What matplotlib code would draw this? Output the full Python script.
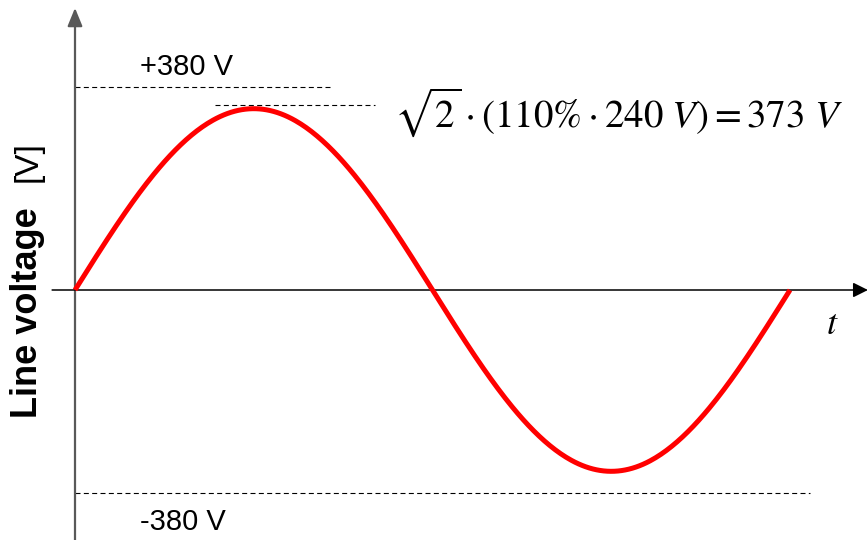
import numpy as np
import matplotlib
matplotlib.use("Agg")
import matplotlib.pyplot as plt

# nominal line voltage and the limits drawn around it
v_rms = 240.0
v_limit = 380.0
peak_label = r"$\sqrt{2}\cdot(110\%\cdot240\ V)=373\ V$"
limit_labels = ["+380 V", "-380 V"]

# one period of the line voltage (t in periods)
t = np.linspace(0.0, 1.0, 400)
v = np.sqrt(2) * v_rms * np.sin(2 * np.pi * t)
v_peak = v.max()

plt.rcParams["font.family"] = ["Liberation Sans", "DejaVu Sans"]
plt.rcParams["mathtext.fontset"] = "stix"

fig = plt.figure(figsize=(8.68, 5.4), dpi=100)
ax = fig.add_axes([0, 0, 1, 1])
ax.set_axis_off()

# 715 px per period, 203 px per 380 V, origin at (75, 290) px
ax.set_xlim(-75 / 715, (868 - 75) / 715)
ax.set_ylim(-(540 - 290) * v_limit / 203, 290 * v_limit / 203)

# axes with arrow heads
ax.annotate("", xy=(0, 528), xytext=(0, -480),
            arrowprops=dict(arrowstyle="-|>,head_length=1.1,head_width=0.45",
                            color="#595959", lw=1.6, shrinkA=0, shrinkB=0))
ax.annotate("", xy=(1.109, 0), xytext=(-0.032, 0),
            arrowprops=dict(arrowstyle="-|>,head_length=0.9,head_width=0.45",
                            color="black", lw=1.1, shrinkA=0, shrinkB=0))

# limit and peak reference lines
dash = dict(color="black", lw=0.8, dashes=(4.5, 3.0))
ax.plot([0, 0.357], [v_limit, v_limit], **dash)
ax.plot([0, 1.028], [-v_limit, -v_limit], **dash)
ax.plot([0.196, 0.42], [v_peak + 6, v_peak + 6], **dash)

ax.plot(t, v, color="#ff0000", lw=3.6, solid_capstyle="butt", zorder=3)

tr = ax.transAxes
ax.text(140 / 868, 1 - 67 / 540, limit_labels[0], transform=tr,
        fontsize=21, ha="left", va="center")
ax.text(140 / 868, 1 - 522 / 540, limit_labels[1], transform=tr,
        fontsize=21, ha="left", va="center")
ax.text(394 / 868, 1 - 112 / 540, peak_label, transform=tr,
        fontsize=28, ha="left", va="center")
ax.text(832 / 868, 1 - 325 / 540, r"$t$", transform=tr,
        fontsize=26, ha="center", va="center")

ax.text(28 / 868, 1 - 418 / 540, "Line voltage", transform=tr, rotation=90,
        fontsize=26, fontweight="bold", ha="center", va="bottom")
ax.text(28 / 868, 1 - 182 / 540, "[V]", transform=tr, rotation=90,
        fontsize=24, ha="center", va="bottom")

fig.savefig("out.png", dpi=100)
